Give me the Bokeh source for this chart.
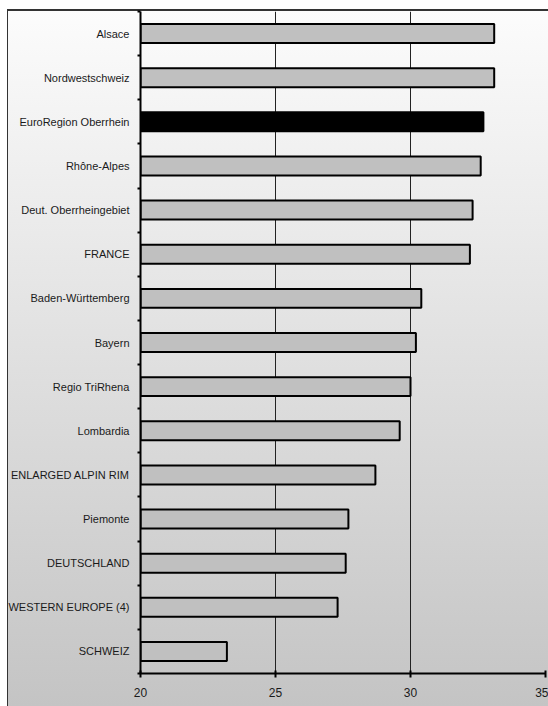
from bokeh.plotting import figure
from bokeh.models import FixedTicker, ColumnDataSource
from bokeh.embed import file_html
from bokeh.resources import INLINE

# Regions, listed top to bottom
regions = [
    "Alsace", "Nordwestschweiz", "EuroRegion Oberrhein", "Rhône-Alpes",
    "Deut. Oberrheingebiet", "FRANCE", "Baden-Württemberg", "Bayern",
    "Regio TriRhena", "Lombardia", "ENLARGED ALPIN RIM", "Piemonte",
    "DEUTSCHLAND", "WESTERN EUROPE (4)", "SCHWEIZ",
]
values = [33.1, 33.1, 32.7, 32.6, 32.3, 32.2, 30.4, 30.2, 30.0, 29.6,
          28.7, 27.7, 27.6, 27.3, 23.2]
highlight = "EuroRegion Oberrhein"
x_ticks = [20, 25, 30, 35]

FONT = "'Liberation Sans', Arial, sans-serif"

n = len(regions)
ypos = [n - i - 0.5 for i in range(n)]
fills = ["#000000" if r == highlight else "#c0c0c0" for r in regions]
src = ColumnDataSource(dict(y=ypos, right=values, fill=fills, name=regions))

p = figure(
    width=548, height=706,
    x_range=(20, 35), y_range=(0, n),
    output_backend="svg", toolbar_location=None,
    min_border_left=140, min_border_right=3,
    min_border_top=11, min_border_bottom=33,
)

# page-like panel: gradient fill with a thin dark edge at left and top
p.background_fill_alpha = 0
p.border_fill_alpha = 0
p.outline_line_color = None
p.styles = {
    "background": (
        "linear-gradient(#333, #333) 7px 9px / 560px 2px no-repeat, "
        "linear-gradient(#333, #333) 7px 9px / 1px 720px no-repeat, "
        "linear-gradient(to bottom, #fcfcfc, #c4c4c4) 7px 9px / 560px 697px no-repeat, "
        "#ffffff"
    )
}

p.hbar(y="y", left=20, right="right", height=0.43, source=src,
       fill_color="fill", line_color="#000000", line_width=2)

# vertical grid lines only
p.ygrid.grid_line_color = None
p.xgrid.ticker = FixedTicker(ticks=x_ticks)
p.xgrid.grid_line_color = "#222222"
p.xgrid.grid_line_width = 1

# bottom axis
p.xaxis.ticker = FixedTicker(ticks=x_ticks, minor_ticks=[])
p.xaxis.axis_line_width = 2
p.xaxis.axis_line_color = "#000000"
p.xaxis.major_tick_in = 3
p.xaxis.major_tick_out = 4
p.xaxis.major_tick_line_width = 2
p.xaxis.minor_tick_line_color = None
p.xaxis.major_label_standoff = 10
p.xaxis.major_label_text_font = FONT
p.xaxis.major_label_text_font_size = "12px"
p.xaxis.major_label_text_color = "#1a1a1a"

# left axis: names at bar centres, tick marks between categories
p.yaxis.ticker = FixedTicker(ticks=ypos, minor_ticks=list(range(0, n + 1)))
p.yaxis.major_label_overrides = {y: r for y, r in zip(ypos, regions)}
p.yaxis.axis_line_width = 2
p.yaxis.axis_line_color = "#000000"
p.yaxis.major_tick_in = 0
p.yaxis.major_tick_out = 0
p.yaxis.minor_tick_in = 0
p.yaxis.minor_tick_out = 3
p.yaxis.minor_tick_line_width = 2
p.yaxis.minor_tick_line_color = "#000000"
p.yaxis.major_label_standoff = 8
p.yaxis.major_label_text_font = FONT
p.yaxis.major_label_text_font_size = "11px"
p.yaxis.major_label_text_color = "#1a1a1a"

open("out.html", "w").write(file_html(p, INLINE))
